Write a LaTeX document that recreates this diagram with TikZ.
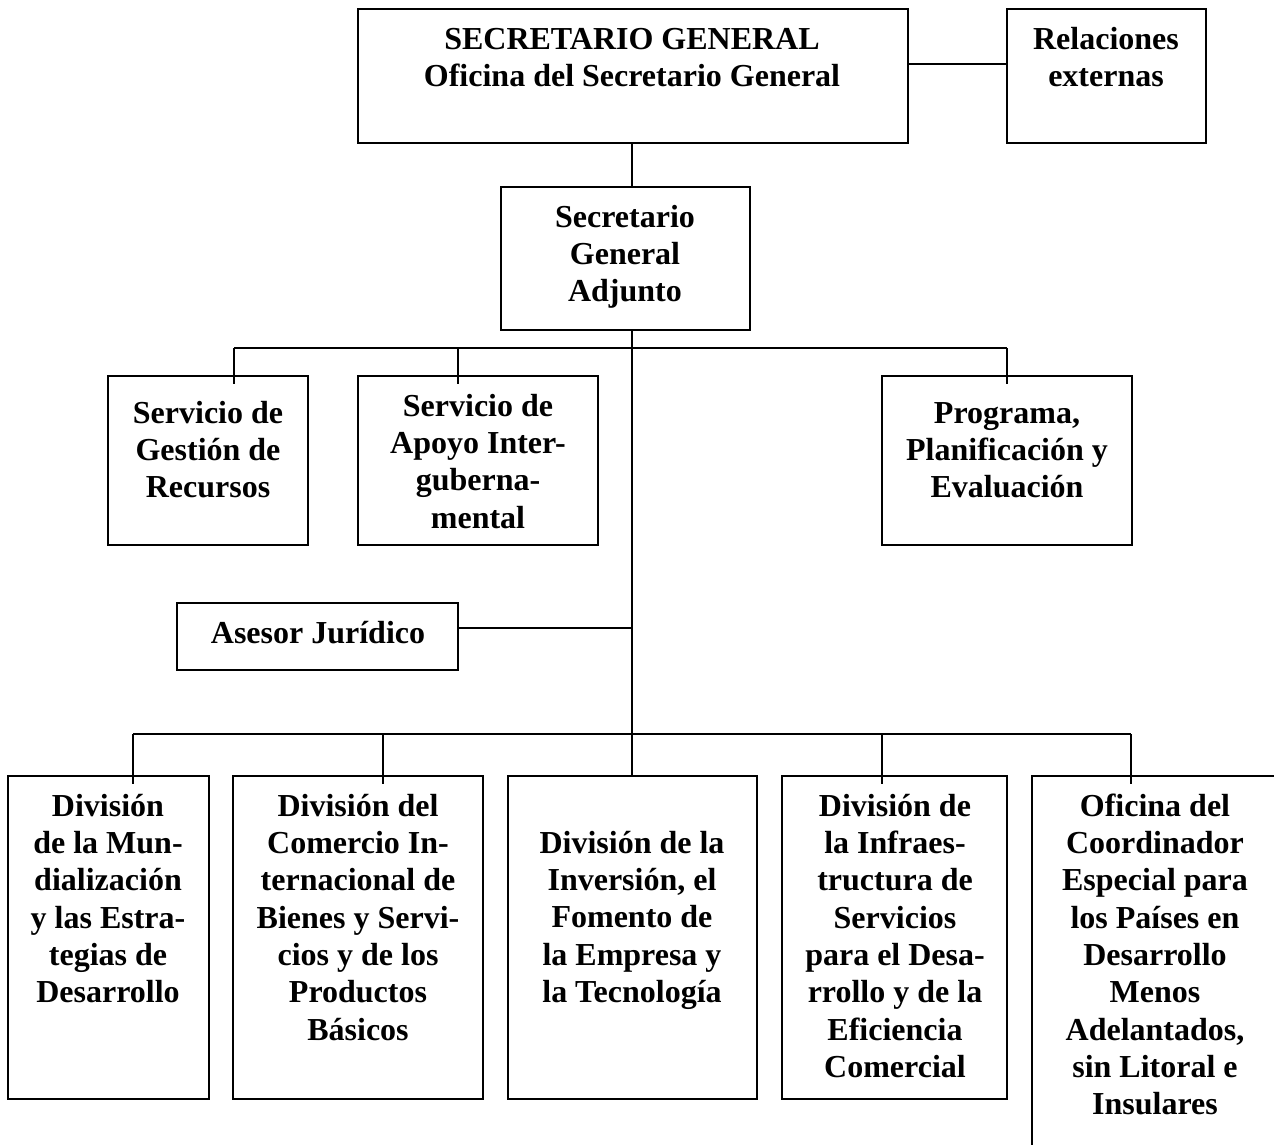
\documentclass[tikz,border=0pt]{standalone}
\usepackage{fontspec}
\setmainfont{Liberation Serif}
\begin{document}
\begin{tikzpicture}[x=1pt,y=-1pt,
  box/.style={draw=black, line width=1.5pt, inner sep=0pt, outer sep=0pt, anchor=north west},
  lbl/.style={font=\fontsize{32}{37.3}\selectfont\bfseries, align=center, inner sep=0pt, anchor=north},
  conn/.style={draw=black, line width=1.5pt}]
\useasboundingbox[fill=white] (0,0) rectangle (1274,1145);
% boxes
\node[box, minimum width=550, minimum height=134] (sg) at (358,9) {};
\node[box, minimum width=199, minimum height=134] (re) at (1007,9) {};
\node[box, minimum width=249, minimum height=143] (sga) at (501,187) {};
\node[box, minimum width=200, minimum height=169] (ges) at (108,376) {};
\node[box, minimum width=240, minimum height=169] (apo) at (358,376) {};
\node[box, minimum width=250, minimum height=169] (prg) at (882,376) {};
\node[box, minimum width=281, minimum height=67] (ase) at (177,603) {};
\node[box, minimum width=201, minimum height=323] (d1) at (8,776) {};
\node[box, minimum width=250, minimum height=323] (d2) at (233,776) {};
\node[box, minimum width=249, minimum height=323] (d3) at (508,776) {};
\node[box, minimum width=225, minimum height=323] (d4) at (782,776) {};
\begin{scope}
\clip (0,0) rectangle (1274,1145);
\node[box, minimum width=300, minimum height=420] (d5) at (1032,776) {};
\end{scope}
% labels
\node[lbl] (sgt) at (632,23) {\strut SECRETARIO GENERAL\\Oficina del Secretario General};
\node[lbl] (ret) at (1106,23) {\strut Relaciones\\externas};
\node[lbl] (sgat) at (625,201) {\strut Secretario\\General\\Adjunto};
\node[lbl] (gest) at (208,397) {\strut Servicio de\\Gestión de\\Recursos};
\node[lbl] (apot) at (478,390) {\strut Servicio de\\Apoyo Inter-\\guberna-\\mental};
\node[lbl] (prgt) at (1007,397) {\strut Programa,\\Planificación y\\Evaluación};
\node[lbl] (aset) at (318,617) {\strut Asesor Jurídico};
\node[lbl] (d1t) at (108,790) {\strut División\\de la Mun-\\dialización\\y las Estra-\\tegias de\\Desarrollo};
\node[lbl] (d2t) at (358,790) {\strut División del\\Comercio In-\\ternacional de\\Bienes y Servi-\\cios y de los\\Productos\\Básicos};
\node[lbl] (d3t) at (632,827) {\strut División de la\\Inversión, el\\Fomento de\\la Empresa y\\la Tecnología};
\node[lbl] (d4t) at (895,790) {\strut División de\\la Infraes-\\tructura de\\Servicios\\para el Desa-\\rrollo y de la\\Eficiencia\\Comercial};
\node[lbl] (d5t) at (1155,790) {\strut Oficina del\\Coordinador\\Especial para\\los Países en\\Desarrollo\\Menos\\Adelantados,\\sin Litoral e\\Insulares};
% junction coordinates
\coordinate (rc) at (950,64);
\coordinate (t1) at (632,348);
\coordinate (t2) at (632,628);
\coordinate (t3) at (632,734);
\coordinate (ub1) at (234,348);
\coordinate (ub2) at (458,348);
\coordinate (ub3) at (1007,348);
\coordinate (lb1) at (133,734);
\coordinate (lb2) at (383,734);
\coordinate (lb4) at (882,734);
\coordinate (lb5) at (1131,734);
% connectors
\draw[conn] (sg.east |- rc) -- (re.west |- rc);
\draw[conn] (sg.south -| t1) -- (sga.north -| t1);
\draw[conn] (sga.south -| t1) -- (t3);
\draw[conn] (ub1) -- (ub3);
\draw[conn] (ub1) -- (ub1 |- ges.north) -- ++(0,8);
\draw[conn] (ub2) -- (ub2 |- apo.north) -- ++(0,8);
\draw[conn] (ub3) -- (ub3 |- prg.north) -- ++(0,8);
\draw[conn] (t2) -- (t2 -| ase.east);
\draw[conn] (lb1) -- (lb5);
\draw[conn] (lb1) -- (lb1 |- d1.north) -- ++(0,8);
\draw[conn] (lb2) -- (lb2 |- d2.north) -- ++(0,8);
\draw[conn] (t3) -- (t3 |- d3.north);
\draw[conn] (lb4) -- (lb4 |- d4.north) -- ++(0,8);
\draw[conn] (lb5) -- (lb5 |- d5.north) -- ++(0,8);
\end{tikzpicture}
\end{document}
